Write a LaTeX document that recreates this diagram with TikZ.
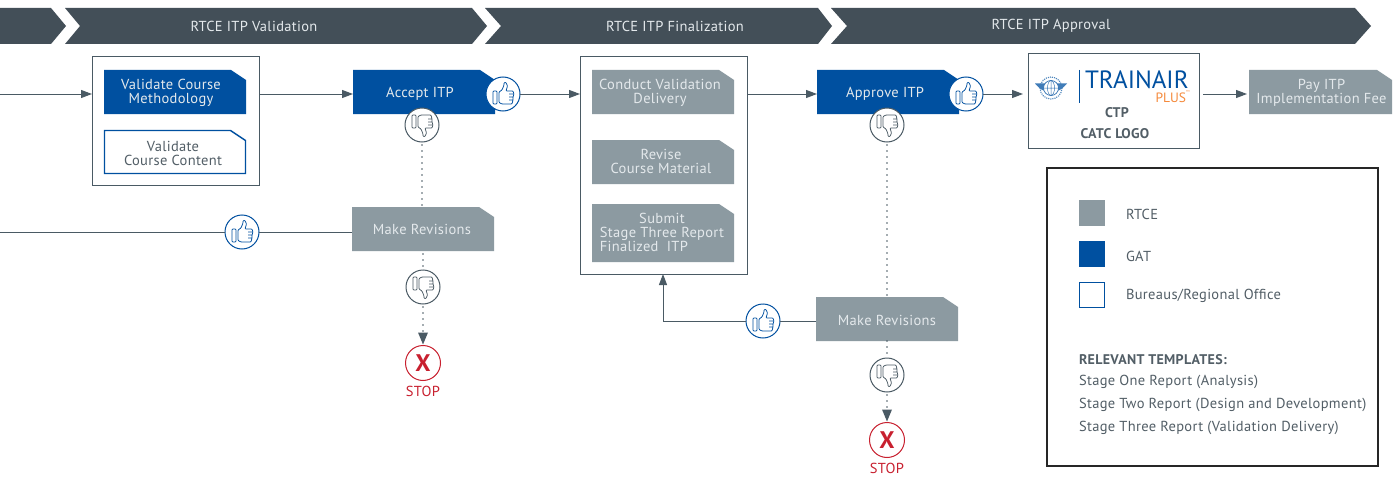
\documentclass[tikz,border=0pt]{standalone}
\usepackage{fontspec}
\setmainfont[LetterSpace=2.2]{PT Sans}
\newfontfamily\logofont{PT Sans}
\usetikzlibrary{arrows.meta,calc}
\definecolor{hdr}{HTML}{434F58}
\definecolor{gry}{HTML}{8C9AA1}
\definecolor{blu}{HTML}{0050A0}
\definecolor{lin}{HTML}{4A5A64}
\definecolor{txt}{HTML}{525E66}
\definecolor{stp}{HTML}{C8202F}
\definecolor{org}{HTML}{F58A3C}
\definecolor{lgt}{HTML}{E4E9EC}
\def\foldtx{0pt}
\def\foldty{-1.5pt}
\makeatletter
\pgfdeclareshape{foldbox}{
  \inheritsavedanchors[from=rectangle]
  \inheritanchorborder[from=rectangle]
  \savedanchor\textoffset{\pgfpoint{\foldtx}{\foldty}}
  \anchor{text}{\textoffset}
  \inheritanchor[from=rectangle]{center}
  \inheritanchor[from=rectangle]{north}
  \inheritanchor[from=rectangle]{south}
  \inheritanchor[from=rectangle]{east}
  \inheritanchor[from=rectangle]{west}
  \inheritanchor[from=rectangle]{north east}
  \inheritanchor[from=rectangle]{north west}
  \inheritanchor[from=rectangle]{south east}
  \inheritanchor[from=rectangle]{south west}
  \backgroundpath{
    \southwest \pgf@xa=\pgf@x \pgf@ya=\pgf@y
    \northeast \pgf@xb=\pgf@x \pgf@yb=\pgf@y
    \pgfpathmoveto{\pgfqpoint{\pgf@xa}{\pgf@ya}}
    \pgfpathlineto{\pgfqpoint{\pgf@xa}{\pgf@yb}}
    \pgfpathlineto{\pgfpoint{\pgf@xb-15pt}{\pgf@yb}}
    \pgfpathlineto{\pgfpoint{\pgf@xb}{\pgf@yb-10pt}}
    \pgfpathlineto{\pgfqpoint{\pgf@xb}{\pgf@ya}}
    \pgfpathclose
  }
}
\makeatother
\tikzset{
  tx/.store in=\foldtx,
  ty/.store in=\foldty,
  every node/.style={inner sep=0pt,outer sep=0pt,font=\fontsize{14.5}{14}\selectfont,align=center},
  step box/.style={shape=foldbox,minimum width=142pt,minimum height=44pt,anchor=north west},
  graybox/.style={step box,fill=gry,text=lgt},
  bluebox/.style={step box,fill=blu,text=lgt},
  linebox/.style={step box,fill=white,draw=blu,line width=1.4pt,text=txt},
  frame/.style={draw=lin,line width=1pt,fill=white,anchor=north west},
  conn/.style={draw=lin,line width=1pt,-{Triangle[length=11pt,width=8pt]}},
  plain/.style={draw=lin,line width=1pt},
  dots/.style={draw=lin,line width=1.9pt,line cap=round,dash pattern=on 0pt off 6pt},
  tip/.style={fill=lin,draw=none},
  hbar/.style={fill=hdr},
  htext/.style={text=lgt},
  upc/.style={circle,draw=blu,line width=1pt,fill=white,minimum size=34pt},
  downc/.style={circle,draw=lin,line width=1pt,fill=white,minimum size=34pt},
  stopc/.style={circle,draw=stp,line width=1pt,fill=white,minimum size=35pt,text=stp,font=\fontsize{24}{24}\selectfont\bfseries},
  stopt/.style={text=stp},
  legt/.style={text=txt,anchor=west},
  pics/thumb/.style={code={
    \draw[#1,line width=0.75pt,line join=round,rounded corners=0.8pt]
      (-10,-3) rectangle (-6,10)
      (-4,-2) -- (-1,-4) -- (1,-9) -- (1,-11.5) -- (3,-11.5) -- (4.5,-8) -- (3,-3)
      -- (10,-3) -- (11,0) -- (10,3) -- (10,6) -- (9,10) -- (-1,10) -- (-4,8.5) -- cycle
      (6,0) -- (11,0) (6,3) -- (10,3) (6,6) -- (10,6);
  }},
}
\begin{document}
\begin{tikzpicture}[x=1pt,y=-1pt]
\useasboundingbox (0,0) rectangle (1395,487);
\fill[white] (0,0) rectangle (1395,487);
% header
\fill[hbar] (0,8) -- (51,8) -- (66,26) -- (51,44) -- (0,44) -- cycle;
\fill[hbar] (65,8) -- (472,8) -- (487,26) -- (472,44) -- (65,44) -- (80,26) -- cycle;
\fill[hbar] (485,8) -- (818,8) -- (832,26) -- (818,44) -- (485,44) -- (501,26) -- cycle;
\fill[hbar] (831,8) -- (1355,8) -- (1371,26) -- (1355,44) -- (831,44) -- (847,26) -- cycle;
\node[htext] (h1) at (254,26) {RTCE ITP Validation};
\node[htext] (h2) at (675,26) {RTCE ITP Finalization};
\node[htext] (h3) at (1051,26) {RTCE ITP Approval};
% rows
\coordinate (r1) at (0,94);
\coordinate (r2) at (0,232);
% frames
\node[frame,minimum width=167pt,minimum height=128pt] (valbox) at (92,57) {};
\node[bluebox,tx=-4pt,ty=-0.5pt] (vm) at (104,70) {Validate Course\\Methodology};
\node[linebox,minimum width=141pt,minimum height=43pt,tx=-2pt,ty=-1pt] (vc) at (104.5,130.5) {Validate\\Course Content};
\node[bluebox,tx=-4pt] (acc) at (353,70) {Accept ITP};
\node[graybox,tx=-1pt,ty=-0.5pt] (mr1) at (352,207) {Make Revisions};
\node[frame,minimum width=167pt,minimum height=217pt] (finbox) at (580,57) {};
\node[graybox,tx=-3pt,ty=-0.5pt] (cv) at (592,70) {Conduct Validation\\Delivery};
\node[graybox,tx=-2pt,ty=0.5pt] (rc) at (592,140) {Revise\\Course Material};
\node[graybox,minimum height=58pt,tx=-1pt,ty=-1pt] (ss) at (592,204) {Submit\\Stage Three Report\\\rlap{Finalized\ \ ITP}\phantom{Stage Three Report}};
\node[bluebox,tx=-3pt] (app) at (817,70) {Approve ITP};
\node[graybox,tx=0pt] (mr2) at (816,297) {Make Revisions};
\node[frame,minimum width=171pt,minimum height=94pt] (logo) at (1028,54) {};
\node[graybox,minimum width=143pt,tx=1pt,ty=-0.5pt] (pay) at (1249,70) {Pay ITP\\Implementation Fee};
% thumbs & stops
\node[upc] (u1) at (503,94) {};
\node[downc] (d1) at (422,125) {};
\node[upc] (u2) at (242,232) {};
\node[downc] (d2) at (423,287) {};
\node[stopc] (s1) at (423,363) {X};
\node[stopt] (st1) at (423,391) {STOP};
\node[upc] (u3) at (966,94) {};
\node[downc] (d3) at (887,125) {};
\node[upc] (u4) at (763,321) {};
\node[downc] (d4) at (887,375) {};
\node[stopc] (s2) at (887,440) {X};
\node[stopt] (st2) at (887,468) {STOP};
\pic at (u1) {thumb=blu};
\pic at (u2) {thumb=blu};
\pic at (u3) {thumb=blu};
\pic at (u4) {thumb=blu};
\pic[yscale=-1] at (d1) {thumb=lin};
\pic[yscale=-1] at (d2) {thumb=lin};
\pic[yscale=-1] at (d3) {thumb=lin};
\pic[yscale=-1] at (d4) {thumb=lin};
% connectors
\coordinate (in1) at (0,94);
\coordinate (in2) at (0,232);
\coordinate (bend) at (663,321);
\path[conn] (in1) -- (r1 -| valbox.west);
\path[conn] (r1 -| valbox.east) -- (r1 -| acc.west);
\path[conn] (u1.east) -- (r1 -| finbox.west);
\path[conn] (r1 -| finbox.east) -- (r1 -| app.west);
\path[conn] (u3.east) -- ([xshift=-5pt]r1 -| logo.west);
\path[conn] ([xshift=4pt]r1 -| logo.east) -- ([xshift=-2pt]r1 -| pay.west);
\path[plain] (in2) -- (u2.west);
\path[plain] (u2.east) -- (r2 -| mr1.west);
\path[plain] (u4.east) -- (u4.east -| mr2.west);
\path[conn] (u4.west) -- (bend) -- (bend |- finbox.south);
\path[dots] ([yshift=-3pt]d1.south) -- (mr1.north -| d1);
\path[dots] ([yshift=-3pt]mr1.south -| d2) -- (d2.north);
\path[dots] ([yshift=-3pt]d2.south) -- ([yshift=12pt]s1.north);
\fill[tip] ([yshift=1pt]s1.north) -- ++(-5,-12) -- ++(10,0) -- cycle;
\path[dots] ([yshift=-3pt]d3.south) -- (mr2.north -| d3);
\path[dots] (mr2.south -| d4) -- (d4.north);
\path[dots] ([yshift=-3pt]d4.south) -- ([yshift=12pt]s2.north);
\fill[tip] ([yshift=1pt]s2.north) -- ++(-5,-12) -- ++(10,0) -- cycle;
% logo content
\begin{scope}[shift={(1051,88)}]
  \draw[blu!70,line width=1.1pt,densely dotted] (0,0) circle (11);
  \fill[blu!75] (-16,-4.5) -- (-6,-4.5) -- (-6,3) .. controls (-10,2) and (-13,-1) .. (-16,-4.5) -- cycle;
  \fill[blu!75] (16,-4.5) -- (6,-4.5) -- (6,3) .. controls (10,2) and (13,-1) .. (16,-4.5) -- cycle;
  \draw[blu!80,fill=white,line width=0.7pt] (0,0) circle (7.5);
  \draw[blu!80,line width=0.5pt] (-7.5,0) -- (7.5,0) (0,-7.5) -- (0,7.5) (0,0) ellipse (3.5 and 7.5);
\end{scope}
\draw[blu,line width=1pt] (1079,70) -- (1079,103);
\node[text=blu,anchor=west,font=\fontsize{25}{20}\selectfont\logofont] (tr) at (1085,80) {TRAINAIR};
\node[text=org,anchor=east,font=\fontsize{13.5}{14}\selectfont\logofont] (pl) at (1186,98) {PLUS};
\node[text=org,anchor=west,font=\fontsize{4}{4}\selectfont\logofont] (tm) at (1186,92) {™};
\node[text=txt,font=\fontsize{14}{14}\selectfont\bfseries] (ctp) at (1117,113) {CTP};
\node[text=txt,font=\fontsize{14}{14}\selectfont\bfseries] (catc) at (1115,134) {CATC LOGO};
% legend
\node[draw=black!85,line width=1.4pt,fill=white,minimum width=331pt,minimum height=298pt,anchor=north west] (leg) at (1047,168) {};
\node[fill=gry,minimum size=26pt] (k1) at (1092,213) {};
\node[fill=blu,minimum size=26pt] (k2) at (1092,254) {};
\node[draw=blu,line width=1.4pt,fill=white,minimum size=24.5pt] (k3) at (1092,295) {};
\node[legt] (l1) at (1126,214.5) {RTCE};
\node[legt] (l2) at (1126,256.5) {GAT};
\node[legt] (l3) at (1126,295.5) {Bureaus/Regional Office};
\node[legt,font=\fontsize{14}{14}\selectfont\bfseries] (t0) at (1079,359.5) {RELEVANT TEMPLATES:};
\node[legt] (t1) at (1079,382) {Stage One Report (Analysis)};
\node[legt] (t2) at (1079,405) {Stage Two Report (Design and Development)};
\node[legt] (t3) at (1079,428) {Stage Three Report (Validation Delivery)};
\end{tikzpicture}
\end{document}
